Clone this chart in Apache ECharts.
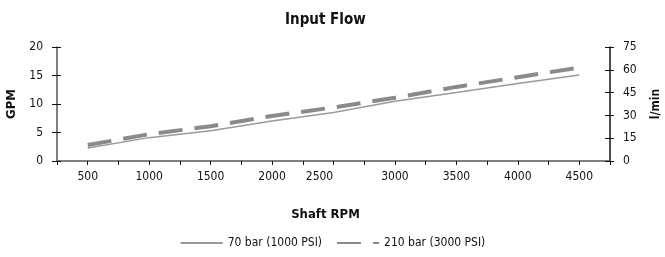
<!DOCTYPE html>
<html>
<head>
<meta charset="utf-8">
<script src="https://cdn.jsdelivr.net/npm/echarts@6/dist/echarts.min.js"></script>
<style>
  html, body { margin: 0; padding: 0; background: #fff; }
  #chart { width: 665px; height: 257px; }
</style>
</head>
<body>
<div id="chart"></div>
<script>
  // shaft speed, RPM
  let rpm = [500, 1000, 1500, 2000, 2500, 3000, 3500, 4000, 4500]
  // flow in GPM
  let flow70 = [2.3, 4.1, 5.3, 7.0, 8.5, 10.5, 12.0, 13.6, 15.1]
  let flow210 = [2.8, 4.7, 6.1, 7.9, 9.4, 11.1, 13.0, 14.7, 16.4]
  let seriesNames = ['70 bar (1000 PSI)', '210 bar (3000 PSI)']

  let font = "'Liberation Sans Narrow', 'DejaVu Sans Condensed', sans-serif"

  function pairs(ys) {
    return rpm.map(function (x, i) { return [x, ys[i]] })
  }

  let lineCol = '#555'
  let tickCol = '#111'

  let option = {
    backgroundColor: '#fff',
    animation: false,
    textStyle: { fontFamily: font },
    title: {
      text: 'Input Flow',
      left: 280,
      top: 8,
      textStyle: { fontFamily: font, fontSize: 15, fontWeight: 'bold', color: '#111' }
    },
    legend: {
      data: seriesNames,
      bottom: 3,
      left: 'center',
      itemWidth: 42,
      itemHeight: 8,
      itemGap: 14,
      itemStyle: { opacity: 0 },
      textStyle: { fontFamily: font, fontSize: 12, color: '#111' }
    },
    grid: { left: 57, right: 55, top: 47, bottom: 96, outerBoundsMode: 'none' },
    xAxis: [{
      type: 'value',
      min: 250,
      max: 4750,
      interval: 250,
      name: 'Shaft RPM',
      nameLocation: 'middle',
      nameGap: 47,
      nameTextStyle: { fontFamily: font, fontSize: 13, fontWeight: 'bold', color: '#111', padding: [0, 16, 0, 0] },
      axisLine: { lineStyle: { color: lineCol, width: 1.5 } },
      axisTick: { length: 3, lineStyle: { color: tickCol } },
      splitLine: { show: false },
      axisLabel: {
        margin: 10,
        fontFamily: font,
        fontSize: 12,
        color: '#111',
        showMinLabel: false,
        showMaxLabel: false,
        formatter: function (v) {
          if (v % 500 !== 0) return ''
          if (v === 2500) return '{off|2500}'
          return String(v)
        },
        rich: {
          off: { fontFamily: font, fontSize: 12, color: '#111', padding: [0, 28, 0, 0] }
        }
      }
    }, {
      type: 'value',
      min: 250,
      max: 4750,
      interval: 250,
      axisLine: { show: false },
      axisTick: { inside: true, length: 4, lineStyle: { color: tickCol } },
      axisLabel: { show: false },
      splitLine: { show: false }
    }],
    yAxis: [{
      type: 'value',
      min: 0,
      max: 20,
      interval: 5,
      position: 'left',
      name: 'GPM',
      nameLocation: 'middle',
      nameGap: 36,
      nameTextStyle: { fontFamily: font, fontSize: 13, fontWeight: 'bold', color: '#111' },
      axisLine: { show: true, lineStyle: { color: lineCol, width: 1.5 } },
      axisTick: { show: true, length: 5, lineStyle: { color: tickCol } },
      splitLine: { show: false },
      axisLabel: { margin: 14, fontFamily: font, fontSize: 12, color: '#111' }
    }, {
      type: 'value',
      min: 0,
      max: 20,
      interval: 5,
      position: 'left',
      axisLine: { show: false },
      axisTick: { show: true, inside: true, length: 4, lineStyle: { color: tickCol } },
      axisLabel: { show: false },
      splitLine: { show: false }
    }, {
      type: 'value',
      min: 0,
      max: 75,
      interval: 15,
      position: 'right',
      name: 'l/min',
      nameLocation: 'middle',
      nameRotate: 90,
      nameGap: 40,
      nameTextStyle: { fontFamily: font, fontSize: 12, fontWeight: 'bold', color: '#111' },
      axisLine: { show: true, lineStyle: { color: '#111', width: 1.5 } },
      axisTick: { show: true, length: 4, lineStyle: { color: tickCol } },
      splitLine: { show: false },
      axisLabel: { margin: 13, fontFamily: font, fontSize: 12, color: '#111' }
    }, {
      type: 'value',
      min: 0,
      max: 75,
      interval: 15,
      position: 'right',
      axisLine: { show: false },
      axisTick: { show: true, inside: true, length: 5, lineStyle: { color: tickCol } },
      axisLabel: { show: false },
      splitLine: { show: false }
    }],
    series: [{
      name: seriesNames[0],
      type: 'line',
      symbol: 'none',
      xAxisIndex: 0,
      yAxisIndex: 0,
      lineStyle: { color: '#9a9a9a', width: 1.5 },
      itemStyle: { color: '#9a9a9a' },
      data: pairs(flow70)
    }, {
      name: seriesNames[1],
      type: 'line',
      symbol: 'none',
      xAxisIndex: 0,
      yAxisIndex: 0,
      lineStyle: { color: '#8a8a8a', width: 4, type: [24, 12] },
      itemStyle: { color: '#8a8a8a' },
      data: pairs(flow210)
    }]
  }

  let myChart = echarts.init(document.getElementById('chart'))
  myChart.setOption(option)
</script>
</body>
</html>
